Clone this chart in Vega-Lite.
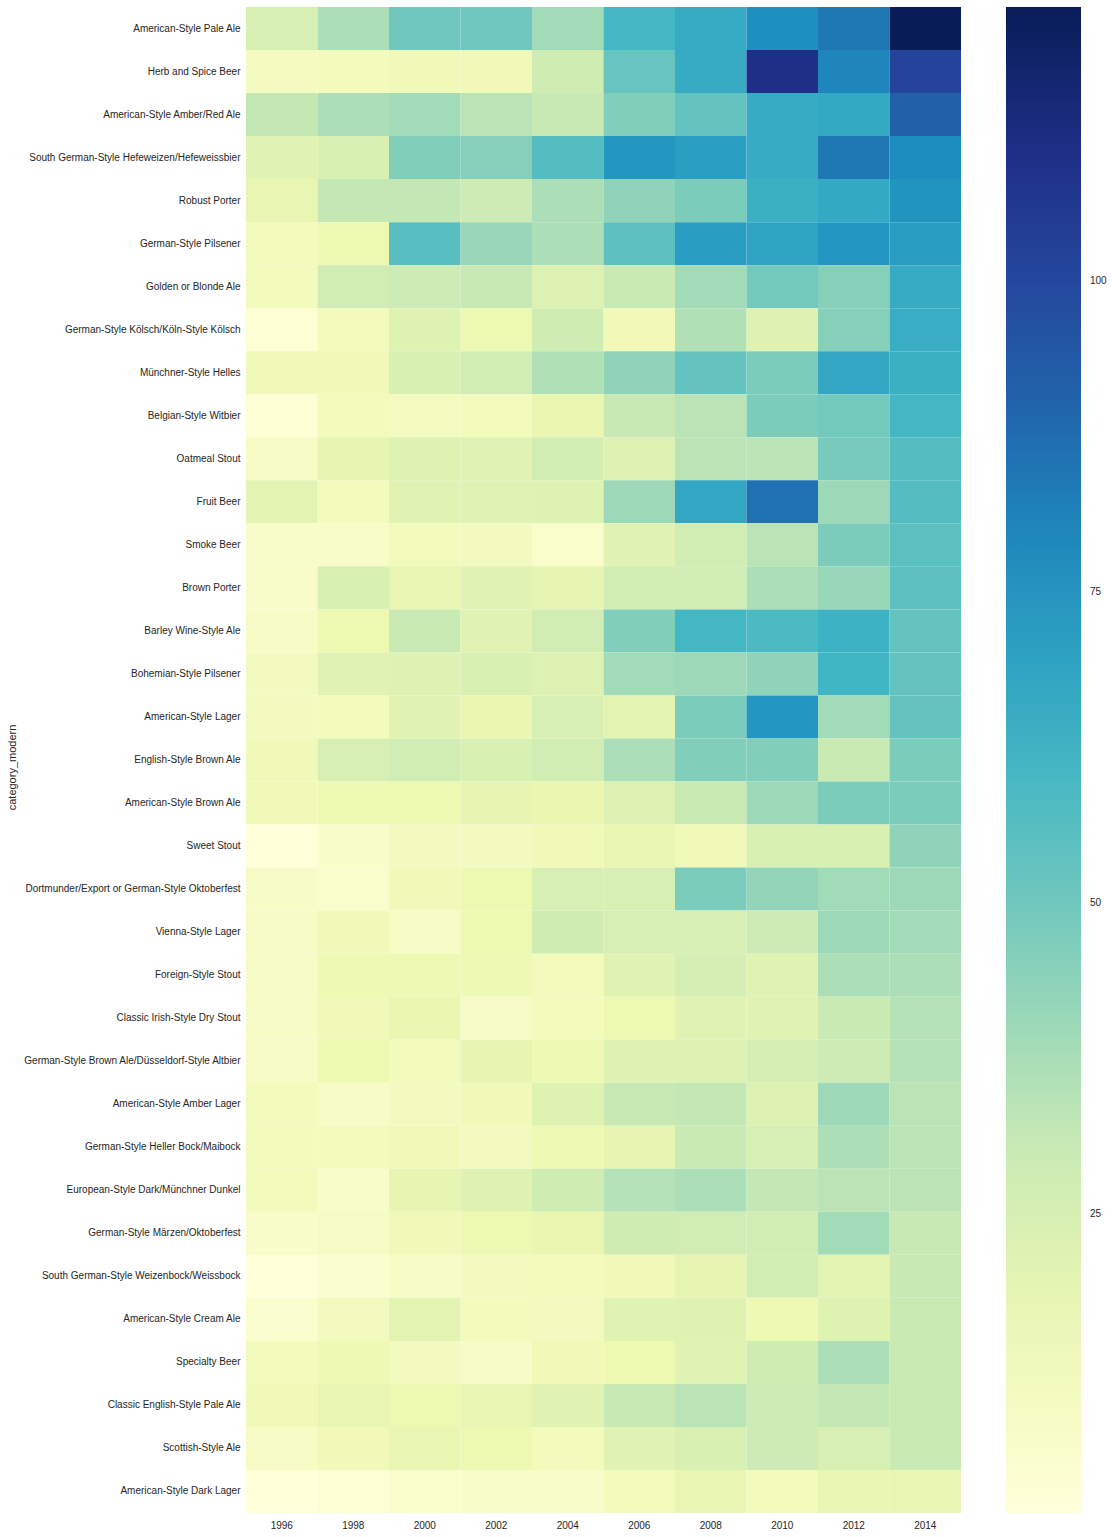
{
"$schema": "https://vega.github.io/schema/vega-lite/v6.json",
"width": 715,
"height": 1506,
"autosize": {"type": "none"},
"padding": {"left": 246, "top": 7, "right": 151, "bottom": 24},
"background": "white",
"data": {"values": [
{"category_modern":"American-Style Pale Ale","year":"1996","n":25},{"category_modern":"American-Style Pale Ale","year":"1998","n":37},{"category_modern":"American-Style Pale Ale","year":"2000","n":50},{"category_modern":"American-Style Pale Ale","year":"2002","n":50},{"category_modern":"American-Style Pale Ale","year":"2004","n":39},{"category_modern":"American-Style Pale Ale","year":"2006","n":61},{"category_modern":"American-Style Pale Ale","year":"2008","n":66},{"category_modern":"American-Style Pale Ale","year":"2010","n":77},{"category_modern":"American-Style Pale Ale","year":"2012","n":84},{"category_modern":"American-Style Pale Ale","year":"2014","n":122},
{"category_modern":"Herb and Spice Beer","year":"1996","n":10},{"category_modern":"Herb and Spice Beer","year":"1998","n":12},{"category_modern":"Herb and Spice Beer","year":"2000","n":13},{"category_modern":"Herb and Spice Beer","year":"2002","n":14},{"category_modern":"Herb and Spice Beer","year":"2004","n":28},{"category_modern":"Herb and Spice Beer","year":"2006","n":52},{"category_modern":"Herb and Spice Beer","year":"2008","n":66},{"category_modern":"Herb and Spice Beer","year":"2010","n":110},{"category_modern":"Herb and Spice Beer","year":"2012","n":80},{"category_modern":"Herb and Spice Beer","year":"2014","n":101},
{"category_modern":"American-Style Amber/Red Ale","year":"1996","n":32},{"category_modern":"American-Style Amber/Red Ale","year":"1998","n":37},{"category_modern":"American-Style Amber/Red Ale","year":"2000","n":39},{"category_modern":"American-Style Amber/Red Ale","year":"2002","n":34},{"category_modern":"American-Style Amber/Red Ale","year":"2004","n":31},{"category_modern":"American-Style Amber/Red Ale","year":"2006","n":46},{"category_modern":"American-Style Amber/Red Ale","year":"2008","n":53},{"category_modern":"American-Style Amber/Red Ale","year":"2010","n":66},{"category_modern":"American-Style Amber/Red Ale","year":"2012","n":67},{"category_modern":"American-Style Amber/Red Ale","year":"2014","n":91},
{"category_modern":"South German-Style Hefeweizen/Hefeweissbier","year":"1996","n":21},{"category_modern":"South German-Style Hefeweizen/Hefeweissbier","year":"1998","n":24},{"category_modern":"South German-Style Hefeweizen/Hefeweissbier","year":"2000","n":46},{"category_modern":"South German-Style Hefeweizen/Hefeweissbier","year":"2002","n":45},{"category_modern":"South German-Style Hefeweizen/Hefeweissbier","year":"2004","n":57},{"category_modern":"South German-Style Hefeweizen/Hefeweissbier","year":"2006","n":74},{"category_modern":"South German-Style Hefeweizen/Hefeweissbier","year":"2008","n":71},{"category_modern":"South German-Style Hefeweizen/Hefeweissbier","year":"2010","n":66},{"category_modern":"South German-Style Hefeweizen/Hefeweissbier","year":"2012","n":84},{"category_modern":"South German-Style Hefeweizen/Hefeweissbier","year":"2014","n":78},
{"category_modern":"Robust Porter","year":"1996","n":18},{"category_modern":"Robust Porter","year":"1998","n":32},{"category_modern":"Robust Porter","year":"2000","n":32},{"category_modern":"Robust Porter","year":"2002","n":29},{"category_modern":"Robust Porter","year":"2004","n":37},{"category_modern":"Robust Porter","year":"2006","n":43},{"category_modern":"Robust Porter","year":"2008","n":47},{"category_modern":"Robust Porter","year":"2010","n":64},{"category_modern":"Robust Porter","year":"2012","n":67},{"category_modern":"Robust Porter","year":"2014","n":75},
{"category_modern":"German-Style Pilsener","year":"1996","n":12},{"category_modern":"German-Style Pilsener","year":"1998","n":16},{"category_modern":"German-Style Pilsener","year":"2000","n":56},{"category_modern":"German-Style Pilsener","year":"2002","n":41},{"category_modern":"German-Style Pilsener","year":"2004","n":37},{"category_modern":"German-Style Pilsener","year":"2006","n":55},{"category_modern":"German-Style Pilsener","year":"2008","n":72},{"category_modern":"German-Style Pilsener","year":"2010","n":69},{"category_modern":"German-Style Pilsener","year":"2012","n":74},{"category_modern":"German-Style Pilsener","year":"2014","n":72},
{"category_modern":"Golden or Blonde Ale","year":"1996","n":12},{"category_modern":"Golden or Blonde Ale","year":"1998","n":27},{"category_modern":"Golden or Blonde Ale","year":"2000","n":29},{"category_modern":"Golden or Blonde Ale","year":"2002","n":31},{"category_modern":"Golden or Blonde Ale","year":"2004","n":23},{"category_modern":"Golden or Blonde Ale","year":"2006","n":30},{"category_modern":"Golden or Blonde Ale","year":"2008","n":39},{"category_modern":"Golden or Blonde Ale","year":"2010","n":49},{"category_modern":"Golden or Blonde Ale","year":"2012","n":45},{"category_modern":"Golden or Blonde Ale","year":"2014","n":66},
{"category_modern":"German-Style Kölsch/Köln-Style Kölsch","year":"1996","n":3},{"category_modern":"German-Style Kölsch/Köln-Style Kölsch","year":"1998","n":12},{"category_modern":"German-Style Kölsch/Köln-Style Kölsch","year":"2000","n":22},{"category_modern":"German-Style Kölsch/Köln-Style Kölsch","year":"2002","n":16},{"category_modern":"German-Style Kölsch/Köln-Style Kölsch","year":"2004","n":28},{"category_modern":"German-Style Kölsch/Köln-Style Kölsch","year":"2006","n":14},{"category_modern":"German-Style Kölsch/Köln-Style Kölsch","year":"2008","n":36},{"category_modern":"German-Style Kölsch/Köln-Style Kölsch","year":"2010","n":22},{"category_modern":"German-Style Kölsch/Köln-Style Kölsch","year":"2012","n":45},{"category_modern":"German-Style Kölsch/Köln-Style Kölsch","year":"2014","n":65},
{"category_modern":"Münchner-Style Helles","year":"1996","n":13},{"category_modern":"Münchner-Style Helles","year":"1998","n":14},{"category_modern":"Münchner-Style Helles","year":"2000","n":24},{"category_modern":"Münchner-Style Helles","year":"2002","n":27},{"category_modern":"Münchner-Style Helles","year":"2004","n":36},{"category_modern":"Münchner-Style Helles","year":"2006","n":43},{"category_modern":"Münchner-Style Helles","year":"2008","n":53},{"category_modern":"Münchner-Style Helles","year":"2010","n":47},{"category_modern":"Münchner-Style Helles","year":"2012","n":68},{"category_modern":"Münchner-Style Helles","year":"2014","n":64},
{"category_modern":"Belgian-Style Witbier","year":"1996","n":3},{"category_modern":"Belgian-Style Witbier","year":"1998","n":12},{"category_modern":"Belgian-Style Witbier","year":"2000","n":10},{"category_modern":"Belgian-Style Witbier","year":"2002","n":12},{"category_modern":"Belgian-Style Witbier","year":"2004","n":17},{"category_modern":"Belgian-Style Witbier","year":"2006","n":31},{"category_modern":"Belgian-Style Witbier","year":"2008","n":34},{"category_modern":"Belgian-Style Witbier","year":"2010","n":47},{"category_modern":"Belgian-Style Witbier","year":"2012","n":49},{"category_modern":"Belgian-Style Witbier","year":"2014","n":61},
{"category_modern":"Oatmeal Stout","year":"1996","n":8},{"category_modern":"Oatmeal Stout","year":"1998","n":19},{"category_modern":"Oatmeal Stout","year":"2000","n":22},{"category_modern":"Oatmeal Stout","year":"2002","n":21},{"category_modern":"Oatmeal Stout","year":"2004","n":27},{"category_modern":"Oatmeal Stout","year":"2006","n":23},{"category_modern":"Oatmeal Stout","year":"2008","n":34},{"category_modern":"Oatmeal Stout","year":"2010","n":34},{"category_modern":"Oatmeal Stout","year":"2012","n":48},{"category_modern":"Oatmeal Stout","year":"2014","n":57},
{"category_modern":"Fruit Beer","year":"1996","n":20},{"category_modern":"Fruit Beer","year":"1998","n":12},{"category_modern":"Fruit Beer","year":"2000","n":21},{"category_modern":"Fruit Beer","year":"2002","n":21},{"category_modern":"Fruit Beer","year":"2004","n":22},{"category_modern":"Fruit Beer","year":"2006","n":40},{"category_modern":"Fruit Beer","year":"2008","n":68},{"category_modern":"Fruit Beer","year":"2010","n":86},{"category_modern":"Fruit Beer","year":"2012","n":40},{"category_modern":"Fruit Beer","year":"2014","n":57},
{"category_modern":"Smoke Beer","year":"1996","n":7},{"category_modern":"Smoke Beer","year":"1998","n":7},{"category_modern":"Smoke Beer","year":"2000","n":12},{"category_modern":"Smoke Beer","year":"2002","n":11},{"category_modern":"Smoke Beer","year":"2004","n":6},{"category_modern":"Smoke Beer","year":"2006","n":21},{"category_modern":"Smoke Beer","year":"2008","n":27},{"category_modern":"Smoke Beer","year":"2010","n":34},{"category_modern":"Smoke Beer","year":"2012","n":47},{"category_modern":"Smoke Beer","year":"2014","n":55},
{"category_modern":"Brown Porter","year":"1996","n":7},{"category_modern":"Brown Porter","year":"1998","n":24},{"category_modern":"Brown Porter","year":"2000","n":18},{"category_modern":"Brown Porter","year":"2002","n":21},{"category_modern":"Brown Porter","year":"2004","n":19},{"category_modern":"Brown Porter","year":"2006","n":27},{"category_modern":"Brown Porter","year":"2008","n":27},{"category_modern":"Brown Porter","year":"2010","n":37},{"category_modern":"Brown Porter","year":"2012","n":41},{"category_modern":"Brown Porter","year":"2014","n":55},
{"category_modern":"Barley Wine-Style Ale","year":"1996","n":8},{"category_modern":"Barley Wine-Style Ale","year":"1998","n":16},{"category_modern":"Barley Wine-Style Ale","year":"2000","n":30},{"category_modern":"Barley Wine-Style Ale","year":"2002","n":21},{"category_modern":"Barley Wine-Style Ale","year":"2004","n":27},{"category_modern":"Barley Wine-Style Ale","year":"2006","n":46},{"category_modern":"Barley Wine-Style Ale","year":"2008","n":61},{"category_modern":"Barley Wine-Style Ale","year":"2010","n":59},{"category_modern":"Barley Wine-Style Ale","year":"2012","n":63},{"category_modern":"Barley Wine-Style Ale","year":"2014","n":53},
{"category_modern":"Bohemian-Style Pilsener","year":"1996","n":11},{"category_modern":"Bohemian-Style Pilsener","year":"1998","n":21},{"category_modern":"Bohemian-Style Pilsener","year":"2000","n":22},{"category_modern":"Bohemian-Style Pilsener","year":"2002","n":24},{"category_modern":"Bohemian-Style Pilsener","year":"2004","n":23},{"category_modern":"Bohemian-Style Pilsener","year":"2006","n":39},{"category_modern":"Bohemian-Style Pilsener","year":"2008","n":40},{"category_modern":"Bohemian-Style Pilsener","year":"2010","n":43},{"category_modern":"Bohemian-Style Pilsener","year":"2012","n":62},{"category_modern":"Bohemian-Style Pilsener","year":"2014","n":53},
{"category_modern":"American-Style Lager","year":"1996","n":11},{"category_modern":"American-Style Lager","year":"1998","n":12},{"category_modern":"American-Style Lager","year":"2000","n":21},{"category_modern":"American-Style Lager","year":"2002","n":17},{"category_modern":"American-Style Lager","year":"2004","n":25},{"category_modern":"American-Style Lager","year":"2006","n":20},{"category_modern":"American-Style Lager","year":"2008","n":47},{"category_modern":"American-Style Lager","year":"2010","n":74},{"category_modern":"American-Style Lager","year":"2012","n":39},{"category_modern":"American-Style Lager","year":"2014","n":53},
{"category_modern":"English-Style Brown Ale","year":"1996","n":14},{"category_modern":"English-Style Brown Ale","year":"1998","n":25},{"category_modern":"English-Style Brown Ale","year":"2000","n":27},{"category_modern":"English-Style Brown Ale","year":"2002","n":24},{"category_modern":"English-Style Brown Ale","year":"2004","n":27},{"category_modern":"English-Style Brown Ale","year":"2006","n":37},{"category_modern":"English-Style Brown Ale","year":"2008","n":46},{"category_modern":"English-Style Brown Ale","year":"2010","n":46},{"category_modern":"English-Style Brown Ale","year":"2012","n":30},{"category_modern":"English-Style Brown Ale","year":"2014","n":47},
{"category_modern":"American-Style Brown Ale","year":"1996","n":14},{"category_modern":"American-Style Brown Ale","year":"1998","n":16},{"category_modern":"American-Style Brown Ale","year":"2000","n":16},{"category_modern":"American-Style Brown Ale","year":"2002","n":19},{"category_modern":"American-Style Brown Ale","year":"2004","n":17},{"category_modern":"American-Style Brown Ale","year":"2006","n":23},{"category_modern":"American-Style Brown Ale","year":"2008","n":30},{"category_modern":"American-Style Brown Ale","year":"2010","n":40},{"category_modern":"American-Style Brown Ale","year":"2012","n":47},{"category_modern":"American-Style Brown Ale","year":"2014","n":47},
{"category_modern":"Sweet Stout","year":"1996","n":1},{"category_modern":"Sweet Stout","year":"1998","n":7},{"category_modern":"Sweet Stout","year":"2000","n":11},{"category_modern":"Sweet Stout","year":"2002","n":11},{"category_modern":"Sweet Stout","year":"2004","n":13},{"category_modern":"Sweet Stout","year":"2006","n":18},{"category_modern":"Sweet Stout","year":"2008","n":14},{"category_modern":"Sweet Stout","year":"2010","n":24},{"category_modern":"Sweet Stout","year":"2012","n":24},{"category_modern":"Sweet Stout","year":"2014","n":43},
{"category_modern":"Dortmunder/Export or German-Style Oktoberfest","year":"1996","n":8},{"category_modern":"Dortmunder/Export or German-Style Oktoberfest","year":"1998","n":6},{"category_modern":"Dortmunder/Export or German-Style Oktoberfest","year":"2000","n":14},{"category_modern":"Dortmunder/Export or German-Style Oktoberfest","year":"2002","n":16},{"category_modern":"Dortmunder/Export or German-Style Oktoberfest","year":"2004","n":25},{"category_modern":"Dortmunder/Export or German-Style Oktoberfest","year":"2006","n":25},{"category_modern":"Dortmunder/Export or German-Style Oktoberfest","year":"2008","n":47},{"category_modern":"Dortmunder/Export or German-Style Oktoberfest","year":"2010","n":42},{"category_modern":"Dortmunder/Export or German-Style Oktoberfest","year":"2012","n":39},{"category_modern":"Dortmunder/Export or German-Style Oktoberfest","year":"2014","n":40},
{"category_modern":"Vienna-Style Lager","year":"1996","n":8},{"category_modern":"Vienna-Style Lager","year":"1998","n":14},{"category_modern":"Vienna-Style Lager","year":"2000","n":8},{"category_modern":"Vienna-Style Lager","year":"2002","n":16},{"category_modern":"Vienna-Style Lager","year":"2004","n":28},{"category_modern":"Vienna-Style Lager","year":"2006","n":25},{"category_modern":"Vienna-Style Lager","year":"2008","n":25},{"category_modern":"Vienna-Style Lager","year":"2010","n":29},{"category_modern":"Vienna-Style Lager","year":"2012","n":40},{"category_modern":"Vienna-Style Lager","year":"2014","n":39},
{"category_modern":"Foreign-Style Stout","year":"1996","n":8},{"category_modern":"Foreign-Style Stout","year":"1998","n":15},{"category_modern":"Foreign-Style Stout","year":"2000","n":15},{"category_modern":"Foreign-Style Stout","year":"2002","n":15},{"category_modern":"Foreign-Style Stout","year":"2004","n":12},{"category_modern":"Foreign-Style Stout","year":"2006","n":21},{"category_modern":"Foreign-Style Stout","year":"2008","n":26},{"category_modern":"Foreign-Style Stout","year":"2010","n":21},{"category_modern":"Foreign-Style Stout","year":"2012","n":37},{"category_modern":"Foreign-Style Stout","year":"2014","n":37},
{"category_modern":"Classic Irish-Style Dry Stout","year":"1996","n":8},{"category_modern":"Classic Irish-Style Dry Stout","year":"1998","n":14},{"category_modern":"Classic Irish-Style Dry Stout","year":"2000","n":17},{"category_modern":"Classic Irish-Style Dry Stout","year":"2002","n":8},{"category_modern":"Classic Irish-Style Dry Stout","year":"2004","n":12},{"category_modern":"Classic Irish-Style Dry Stout","year":"2006","n":16},{"category_modern":"Classic Irish-Style Dry Stout","year":"2008","n":21},{"category_modern":"Classic Irish-Style Dry Stout","year":"2010","n":21},{"category_modern":"Classic Irish-Style Dry Stout","year":"2012","n":30},{"category_modern":"Classic Irish-Style Dry Stout","year":"2014","n":35},
{"category_modern":"German-Style Brown Ale/Düsseldorf-Style Altbier","year":"1996","n":8},{"category_modern":"German-Style Brown Ale/Düsseldorf-Style Altbier","year":"1998","n":16},{"category_modern":"German-Style Brown Ale/Düsseldorf-Style Altbier","year":"2000","n":12},{"category_modern":"German-Style Brown Ale/Düsseldorf-Style Altbier","year":"2002","n":19},{"category_modern":"German-Style Brown Ale/Düsseldorf-Style Altbier","year":"2004","n":15},{"category_modern":"German-Style Brown Ale/Düsseldorf-Style Altbier","year":"2006","n":22},{"category_modern":"German-Style Brown Ale/Düsseldorf-Style Altbier","year":"2008","n":22},{"category_modern":"German-Style Brown Ale/Düsseldorf-Style Altbier","year":"2010","n":26},{"category_modern":"German-Style Brown Ale/Düsseldorf-Style Altbier","year":"2012","n":29},{"category_modern":"German-Style Brown Ale/Düsseldorf-Style Altbier","year":"2014","n":35},
{"category_modern":"American-Style Amber Lager","year":"1996","n":12},{"category_modern":"American-Style Amber Lager","year":"1998","n":8},{"category_modern":"American-Style Amber Lager","year":"2000","n":11},{"category_modern":"American-Style Amber Lager","year":"2002","n":14},{"category_modern":"American-Style Amber Lager","year":"2004","n":22},{"category_modern":"American-Style Amber Lager","year":"2006","n":31},{"category_modern":"American-Style Amber Lager","year":"2008","n":32},{"category_modern":"American-Style Amber Lager","year":"2010","n":23},{"category_modern":"American-Style Amber Lager","year":"2012","n":40},{"category_modern":"American-Style Amber Lager","year":"2014","n":34},
{"category_modern":"German-Style Heller Bock/Maibock","year":"1996","n":12},{"category_modern":"German-Style Heller Bock/Maibock","year":"1998","n":12},{"category_modern":"German-Style Heller Bock/Maibock","year":"2000","n":13},{"category_modern":"German-Style Heller Bock/Maibock","year":"2002","n":11},{"category_modern":"German-Style Heller Bock/Maibock","year":"2004","n":15},{"category_modern":"German-Style Heller Bock/Maibock","year":"2006","n":19},{"category_modern":"German-Style Heller Bock/Maibock","year":"2008","n":30},{"category_modern":"German-Style Heller Bock/Maibock","year":"2010","n":25},{"category_modern":"German-Style Heller Bock/Maibock","year":"2012","n":37},{"category_modern":"German-Style Heller Bock/Maibock","year":"2014","n":34},
{"category_modern":"European-Style Dark/Münchner Dunkel","year":"1996","n":12},{"category_modern":"European-Style Dark/Münchner Dunkel","year":"1998","n":7},{"category_modern":"European-Style Dark/Münchner Dunkel","year":"2000","n":19},{"category_modern":"European-Style Dark/Münchner Dunkel","year":"2002","n":22},{"category_modern":"European-Style Dark/Münchner Dunkel","year":"2004","n":28},{"category_modern":"European-Style Dark/Münchner Dunkel","year":"2006","n":35},{"category_modern":"European-Style Dark/Münchner Dunkel","year":"2008","n":37},{"category_modern":"European-Style Dark/Münchner Dunkel","year":"2010","n":32},{"category_modern":"European-Style Dark/Münchner Dunkel","year":"2012","n":34},{"category_modern":"European-Style Dark/Münchner Dunkel","year":"2014","n":34},
{"category_modern":"German-Style Märzen/Oktoberfest","year":"1996","n":7},{"category_modern":"German-Style Märzen/Oktoberfest","year":"1998","n":9},{"category_modern":"German-Style Märzen/Oktoberfest","year":"2000","n":13},{"category_modern":"German-Style Märzen/Oktoberfest","year":"2002","n":16},{"category_modern":"German-Style Märzen/Oktoberfest","year":"2004","n":17},{"category_modern":"German-Style Märzen/Oktoberfest","year":"2006","n":28},{"category_modern":"German-Style Märzen/Oktoberfest","year":"2008","n":27},{"category_modern":"German-Style Märzen/Oktoberfest","year":"2010","n":27},{"category_modern":"German-Style Märzen/Oktoberfest","year":"2012","n":39},{"category_modern":"German-Style Märzen/Oktoberfest","year":"2014","n":31},
{"category_modern":"South German-Style Weizenbock/Weissbock","year":"1996","n":1},{"category_modern":"South German-Style Weizenbock/Weissbock","year":"1998","n":5},{"category_modern":"South German-Style Weizenbock/Weissbock","year":"2000","n":8},{"category_modern":"South German-Style Weizenbock/Weissbock","year":"2002","n":11},{"category_modern":"South German-Style Weizenbock/Weissbock","year":"2004","n":12},{"category_modern":"South German-Style Weizenbock/Weissbock","year":"2006","n":14},{"category_modern":"South German-Style Weizenbock/Weissbock","year":"2008","n":19},{"category_modern":"South German-Style Weizenbock/Weissbock","year":"2010","n":27},{"category_modern":"South German-Style Weizenbock/Weissbock","year":"2012","n":20},{"category_modern":"South German-Style Weizenbock/Weissbock","year":"2014","n":31},
{"category_modern":"American-Style Cream Ale","year":"1996","n":5},{"category_modern":"American-Style Cream Ale","year":"1998","n":11},{"category_modern":"American-Style Cream Ale","year":"2000","n":20},{"category_modern":"American-Style Cream Ale","year":"2002","n":12},{"category_modern":"American-Style Cream Ale","year":"2004","n":11},{"category_modern":"American-Style Cream Ale","year":"2006","n":21},{"category_modern":"American-Style Cream Ale","year":"2008","n":22},{"category_modern":"American-Style Cream Ale","year":"2010","n":15},{"category_modern":"American-Style Cream Ale","year":"2012","n":22},{"category_modern":"American-Style Cream Ale","year":"2014","n":30},
{"category_modern":"Specialty Beer","year":"1996","n":12},{"category_modern":"Specialty Beer","year":"1998","n":15},{"category_modern":"Specialty Beer","year":"2000","n":11},{"category_modern":"Specialty Beer","year":"2002","n":8},{"category_modern":"Specialty Beer","year":"2004","n":13},{"category_modern":"Specialty Beer","year":"2006","n":16},{"category_modern":"Specialty Beer","year":"2008","n":21},{"category_modern":"Specialty Beer","year":"2010","n":28},{"category_modern":"Specialty Beer","year":"2012","n":37},{"category_modern":"Specialty Beer","year":"2014","n":30},
{"category_modern":"Classic English-Style Pale Ale","year":"1996","n":14},{"category_modern":"Classic English-Style Pale Ale","year":"1998","n":18},{"category_modern":"Classic English-Style Pale Ale","year":"2000","n":16},{"category_modern":"Classic English-Style Pale Ale","year":"2002","n":18},{"category_modern":"Classic English-Style Pale Ale","year":"2004","n":21},{"category_modern":"Classic English-Style Pale Ale","year":"2006","n":31},{"category_modern":"Classic English-Style Pale Ale","year":"2008","n":34},{"category_modern":"Classic English-Style Pale Ale","year":"2010","n":29},{"category_modern":"Classic English-Style Pale Ale","year":"2012","n":32},{"category_modern":"Classic English-Style Pale Ale","year":"2014","n":30},
{"category_modern":"Scottish-Style Ale","year":"1996","n":8},{"category_modern":"Scottish-Style Ale","year":"1998","n":13},{"category_modern":"Scottish-Style Ale","year":"2000","n":18},{"category_modern":"Scottish-Style Ale","year":"2002","n":16},{"category_modern":"Scottish-Style Ale","year":"2004","n":12},{"category_modern":"Scottish-Style Ale","year":"2006","n":21},{"category_modern":"Scottish-Style Ale","year":"2008","n":24},{"category_modern":"Scottish-Style Ale","year":"2010","n":29},{"category_modern":"Scottish-Style Ale","year":"2012","n":25},{"category_modern":"Scottish-Style Ale","year":"2014","n":30},
{"category_modern":"American-Style Dark Lager","year":"1996","n":1},{"category_modern":"American-Style Dark Lager","year":"1998","n":3},{"category_modern":"American-Style Dark Lager","year":"2000","n":6},{"category_modern":"American-Style Dark Lager","year":"2002","n":7},{"category_modern":"American-Style Dark Lager","year":"2004","n":7},{"category_modern":"American-Style Dark Lager","year":"2006","n":12},{"category_modern":"American-Style Dark Lager","year":"2008","n":18},{"category_modern":"American-Style Dark Lager","year":"2010","n":12},{"category_modern":"American-Style Dark Lager","year":"2012","n":18},{"category_modern":"American-Style Dark Lager","year":"2014","n":18}
]},
"mark": {"type": "rect", "strokeWidth": 0},
"encoding": {
  "x": {"field": "year", "type": "ordinal", "sort": null, "scale": {"paddingInner": 0, "paddingOuter": 0},
        "axis": {"title": null, "labelAngle": 0, "labelPadding": 7}},
  "y": {"field": "category_modern", "type": "nominal", "sort": null, "scale": {"paddingInner": 0, "paddingOuter": 0},
        "axis": {"title": "category_modern", "labelPadding": 6, "labelLimit": 400, "titleFontSize": 11, "titleFontWeight": "normal", "titleColor": "#262626", "titleFont": "Liberation Sans", "titleX": -229, "titleY": 760}},
  "color": {"field": "n", "type": "quantitative",
    "scale": {"domain": [1, 16.125, 31.25, 46.375, 61.5, 76.625, 91.75, 106.875, 122],
              "range": ["#ffffd9", "#edf8b1", "#c7e9b4", "#7fcdbb", "#41b6c4", "#1d91c0", "#225ea8", "#253494", "#081d58"],
              "interpolate": "rgb"},
    "legend": {"orient": "none", "legendX": 760, "legendY": 0, "direction": "vertical", "title": null,
               "gradientLength": 1506, "gradientThickness": 75, "gradientStrokeWidth": 0,
               "values": [25, 50, 75, 100], "labelOffset": 9, "labelFontSize": 10, "labelFont": "Liberation Sans",
               "labelColor": "#262626", "padding": 0, "labelOverlap": false}}
},
"config": {
  "view": {"stroke": null},
  "axis": {"domain": false, "ticks": false, "grid": false, "labelFont": "Liberation Sans", "labelFontSize": 10, "labelColor": "#262626"},
  "legend": {"gradientVerticalMaxLength": 1506}
}
}
